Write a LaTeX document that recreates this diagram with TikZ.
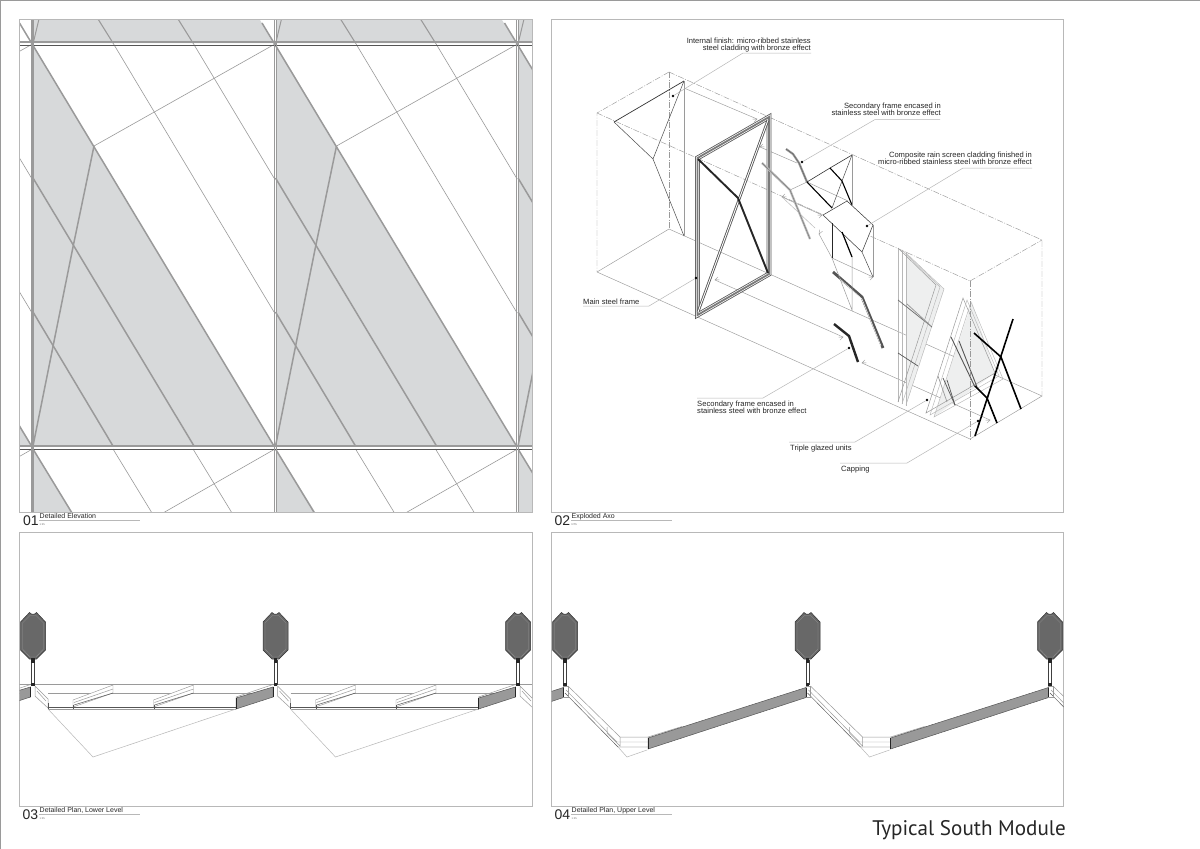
\documentclass[tikz,border=0pt]{standalone}
\usepackage{fontspec}
\setmainfont{Liberation Sans}
\newfontfamily\titlefont{PT Sans}
\definecolor{gfill}{HTML}{D7D9DA}
\definecolor{gline}{HTML}{9A9A9A}
\definecolor{lline}{HTML}{B8B8B8}
\definecolor{dline}{HTML}{555555}
\definecolor{colfill}{HTML}{686868}
\definecolor{panelfill}{HTML}{999999}
\definecolor{glassfill}{HTML}{EEEFEF}
\tikzset{
 frameline/.style={draw=lline,line width=0.9pt},
 thinl/.style={draw=gline,line width=0.6pt},
 thickl/.style={draw=gline,line width=1.5pt},
 axis/.style={draw=gline,line width=0.45pt},
 axisd/.style={draw=gline,line width=0.45pt,dash pattern=on 6pt off 1.5pt on 1pt off 1.5pt},
 leader/.style={draw=lline,line width=0.5pt},
 blkt/.style={draw=black,line width=1.6pt},
 gry/.style={draw=gline,line width=0.5pt},
 pale/.style={draw=lline,line width=0.45pt},
 note/.style={font=\fontsize{7.6}{7.2}\selectfont,text=black!85,inner sep=0pt,align=left,anchor=north west},
 noter/.style={font=\fontsize{7.6}{7.2}\selectfont,text=black!85,inner sep=0pt,align=right,anchor=north east},
 caption/.style={font=\fontsize{7}{7}\selectfont,text=black!85,inner sep=0pt,anchor=base west},
 scalet/.style={font=\fontsize{2.6}{3}\selectfont,text=black!60,inner sep=0pt,anchor=base west},
 numt/.style={font=\fontsize{14}{16}\selectfont,text=black!85,inner sep=0pt,anchor=base west},
 dotp/.style={circle,fill=black,inner sep=0pt,minimum size=2.6pt},
 ah/.style={draw=gline,line width=0.4pt},
}
\newcommand{\arrowmark}[2]{\draw[ah,shift={(#1)},rotate=#2] (-4,-1.6)--(0,0)--(-4,1.6);}
\newcommand{\plancol}[1]{%
 \begin{scope}[shift={(#1,0)}]
  \draw[fill=colfill,draw=black!80,line width=0.5pt] (-12.5,622)--(-3.5,612.5)--(-1.5,614)--(1.5,614)--(3.5,612.5)--(12.5,622)--(12.5,650)--(3.5,659)--(-3.5,659)--(-12.5,650)--cycle;
  \draw[draw=colfill!70!white,line width=0.3pt] (-10.5,623)--(-3,615.5)--(3,615.5)--(10.5,623)--(10.5,649)--(3,657)--(-3,657)--(-10.5,649)--cycle;
  \draw[fill=white,draw=black!75,line width=0.55pt] (-1.6,660)rectangle(1.6,684);
  \fill[black!85] (-1.8,657.5)rectangle(1.8,662.5);
  \fill[black!85] (-1.8,682.5)rectangle(1.8,686);
 \end{scope}}
\begin{document}
\begin{tikzpicture}[x=1pt,y=-1pt]
\useasboundingbox (0,0) rectangle (1200,849);
\fill[white] (0,0) rectangle (1200,849);
\draw[draw=gline,line width=1.1pt] (1200,0.5)--(0.8,0.5)--(0.8,849);
%%%%%%% PANEL 01
\begin{scope}
\clip (19.5,19.5) rectangle (532,512);
\fill[gfill] (33,20)--(260,20)--(274,43)--(33,43)--cycle;
\fill[gfill] (276,20)--(502,20)--(516,43)--(276,43)--cycle;
\fill[gfill] (518,20) rectangle (532,43);
\fill[gfill] (33,45)--(274,446)--(33,446)--cycle;
\fill[gfill] (276,45)--(516,446)--(276,446)--cycle;
\fill[gfill] (518,45)--(532,68)--(532,446)--(518,446)--cycle;
\fill[gfill] (19,424)--(32,446)--(19,446)--cycle;
\fill[gfill] (33,449)--(72,512)--(33,512)--cycle;
\fill[gfill] (276,449)--(315,512)--(276,512)--cycle;
\fill[gfill] (518,449)--(532,472)--(532,512)--(518,512)--cycle;
\foreach \m in {-242.5,0,242.5,485}{
 \begin{scope}[shift={(\m,0)}]
  \draw[thinl] (113,43)--(274,312);
  \draw[thinl] (193,43)--(274,178);
  \draw[thinl] (94,146)--(275,44);
  \draw[thinl] (113,449)--(152,513);
  \draw[thinl] (193,449)--(232,513);
  \draw[thinl] (275,449)--(163,513);
  \draw[thickl] (19.5,23)--(274,446);
  \draw[thickl] (33,178)--(194,446);
  \draw[thickl] (33,312)--(113,446);
  \draw[thickl] (94,146)--(73,247)--(33,446);
  \draw[thickl] (33,449)--(72,513);
  \draw[draw=gline,line width=1pt] (33,44)--(39,19);
  \draw[draw=gline,line width=1.1pt] (98,19)--(113,43);
  \draw[draw=gline,line width=1.1pt] (178,19)--(193,43);
 \end{scope}}
\draw[draw=gline,line width=1.5pt] (19,42.2)--(532,42.2);
\draw[draw=dline,line width=0.7pt] (19,45)--(532,45);
\draw[draw=gline,line width=1.5pt] (19,446)--(532,446);
\draw[draw=dline,line width=0.7pt] (19,449.3)--(532,449.3);
\draw[draw=gline,line width=2.6pt] (32.5,19)--(32.5,513);
\draw[draw=gline,line width=0.8pt] (274,19)--(274,513);
\draw[draw=gline,line width=0.8pt] (276.8,19)--(276.8,513);
\draw[draw=gline,line width=0.8pt] (516,19)--(516,513);
\draw[draw=gline,line width=1.4pt] (518.5,19)--(518.5,513);
\end{scope}
%%%%%%% PANEL FRAMES
\draw[frameline] (19.5,19.5) rectangle (532,512);
\draw[frameline] (551.5,19.5) rectangle (1063.5,512);
\draw[frameline] (19.5,532.5) rectangle (532,806);
\draw[frameline] (551.5,532.5) rectangle (1063.5,806);
%%%%%%% PANEL 02 : exploded axo
\draw[axisd] (669,72)--(597,113)--(597,272);
\draw[axisd] (669,72)--(669,229);
\draw[axis] (669,229)--(597,272);
\draw[axisd] (669,72)--(1042,240)--(1042,396);
\draw[axisd] (597,113)--(970,281);
\draw[axisd] (970,281)--(1042,240);
\draw[axis] (597,272)--(970,439)--(1042,396)--(669,229);
% internal finish panel
\draw[draw=black!80,line width=0.7pt] (614,122)--(684,81);
\draw[draw=black!70,line width=0.5pt] (684,81)--(653,159)--(614,122);
\draw[draw=black!70,line width=0.5pt] (653,159)--(684,236);
\draw[gry] (684,81)--(684,236);
% projection lines with arrows
\draw[axis] (684,88)--(757,119); \arrowmark{757,119}{24}
\draw[axis] (760,147)--(797,163); \arrowmark{760,147}{204}
\draw[axis] (782,197)--(822,215); \arrowmark{782,197}{204}\arrowmark{822,215}{24}
\draw[axis] (715,280)--(843,337); \arrowmark{715,280}{204}\arrowmark{843,337}{24}
\draw[axis] (862,363)--(990,420); \arrowmark{862,363}{204}\arrowmark{990,420}{24}
\draw[axis] (832,258)--(873,277); \arrowmark{873,277}{24}
\draw[axis] (807,182)--(848,201);
\draw[axis] (790,190)--(807,182);
\draw[axis] (819,234)--(832,258); \arrowmark{819,234}{240}
\draw[pale] (782,197)--(815,228);
% main steel frame
\draw[draw=dline,line width=4.8pt,line join=miter] (697.5,158)--(769,117)--(769,274)--(697.5,315)--cycle;
\draw[draw=white,line width=3.2pt,line join=miter] (697.5,158)--(769,117)--(769,274)--(697.5,315)--cycle;
\draw[draw=gline!80!black,line width=1.8pt,line join=miter] (697.5,158)--(769,117)--(769,274)--(697.5,315)--cycle;
\draw[draw=dline,line width=2.6pt] (768,120)--(698,312);
\draw[draw=white,line width=0.9pt] (768,120)--(698,312);
\draw[draw=black!85,line width=1.9pt] (698,159)--(738,198)--(768,273);
% secondary frames
\draw[draw=gline,line width=2.2pt] (786,149)--(793,154)--(799,163)--(807,182);
\draw[draw=dline,line width=0.4pt] (786,149)--(793,154)--(799,163)--(807,182);
\draw[draw=gline!70,line width=2.2pt] (762,163)--(790,190)--(810,239);
\draw[draw=gline!70!black,line width=0.35pt] (762,163)--(790,190)--(810,239);
\draw[draw=dline,line width=2.8pt,line join=round] (833,272)--(862,297)--(883,348);
\draw[draw=white,line width=0.5pt] (840,279)--(862,299)--(881,346);
\draw[draw=black!85,line width=2.4pt,line join=round] (834,324)--(849,336)--(858,362);
% upper cladding
\draw[draw=black!80,line width=0.6pt] (807,182)--(830,168)--(852,155);
\draw[draw=black,line width=1.1pt] (807,182)--(832,208);
\draw[draw=black,line width=1.1pt] (830,168)--(842,181)--(852,205);
\draw[draw=black!70,line width=0.5pt] (852,155)--(842,181)--(832,208);
\draw[gry] (852,155)--(852,205);
% rain screen cladding
\draw[fill=white,draw=black!75,line width=0.55pt] (823,215)--(847,201)--(873,225)--(862,252)--cycle;
\draw[gry] (873,225)--(873,277);
\draw[draw=black!70,line width=0.5pt] (862,252)--(873,277);
\draw[draw=black!85,line width=0.7pt] (832,223)--(832,258);
\draw[draw=black,line width=1.2pt] (842,232)--(852,257);
\draw[gry] (832,258)--(852,310)--(852,257);
% glazing 1
\fill[glassfill] (906,253)--(944,289)--(906,405)--cycle;
\foreach \dx/\dy in {0/0,4/2,8/3.5}{
 \draw[pale] (898+\dx,248+\dy)--(898+\dx,402+\dy);
}
\draw[gry] (898,248)--(936,285)--(898,402);
\draw[pale] (902,250)--(940,287)--(902,404);
\draw[pale] (906,253)--(944,289)--(906,405);
\draw[draw=gline!70!black,line width=0.7pt] (898,300)--(932,327);
\draw[draw=gline,line width=0.8pt] (907,304)--(931,326);
\draw[draw=dline,line width=0.7pt] (898,353)--(918,366);
% glazing 2
\fill[glassfill] (972,302)--(995,373)--(934,417)--cycle;
\draw[gry] (963,298)--(926,413)--(995,373)--cycle;
\draw[pale] (967,300)--(930,415)--(999,376)--cycle;
\draw[pale] (971,302)--(934,417)--(1003,379)--cycle;
\draw[draw=dline,line width=0.9pt] (951,337)--(975,387);
\draw[draw=dline,line width=0.9pt] (959,341)--(977,387);
\draw[draw=gline,line width=0.7pt] (938,376)--(947,402);
\draw[draw=dline,line width=0.7pt] (943,378)--(955,405);
\draw[draw=dline,line width=0.7pt] (947,380)--(955,405);
% capping
\draw[blkt] (974,333)--(1001,357)--(1021,409);
\draw[blkt] (1013,319)--(975,436);
\draw[blkt] (975,386)--(987,398)--(997,423);
\draw[axisd] (970,281)--(970,439);
% leaders and notes
\node[noter] (n1) at (811,38) {Internal finish: micro-ribbed stainless\\steel cladding with bronze effect};
\coordinate (n1a) at (811,53); \coordinate (n1b) at (743,53);
\node[dotp] (d1) at (673,96) {};
\draw[leader] (n1a)--(n1b)--(d1);
\node[noter] (n2) at (941,103) {Secondary frame encased in\\stainless steel with bronze effect};
\coordinate (n2a) at (940,119.5); \coordinate (n2b) at (875,119.5);
\node[dotp] (d2) at (802,162) {};
\draw[leader] (n2a)--(n2b)--(d2);
\node[noter] (n3) at (1032,152) {Composite rain screen cladding finished in\\micro-ribbed stainless steel with bronze effect};
\coordinate (n3a) at (1032,168); \coordinate (n3b) at (963,168);
\node[dotp] (d3) at (867,226) {};
\draw[leader] (n3a)--(n3b)--(d3);
\node[note] (n4) at (583,298.5) {Main steel frame};
\coordinate (n4a) at (583,306); \coordinate (n4b) at (649,306);
\node[dotp] (d4) at (696,278) {};
\draw[leader] (n4a)--(n4b)--(d4);
\node[note] (n5) at (697,401) {Secondary frame encased in\\stainless steel with bronze effect};
\coordinate (n5a) at (697,398); \coordinate (n5b) at (763,398);
\node[dotp] (d5) at (849,348) {};
\draw[leader] (n5a)--(n5b)--(d5);
\node[note] (n6) at (790,444.5) {Triple glazed units};
\coordinate (n6a) at (789,442); \coordinate (n6b) at (855,442);
\node[dotp] (d6) at (927,400) {};
\draw[leader] (n6a)--(n6b)--(d6);
\node[note] (n7) at (841,465.5) {Capping};
\coordinate (n7a) at (840,463); \coordinate (n7b) at (907,463);
\node[dotp] (d7) at (978,421) {};
\draw[leader] (n7a)--(n7b)--(d7);
%%%%%%% PANEL 03
\begin{scope}
\clip (19.5,532.5) rectangle (532,806);
\draw[gry] (19,684.5)--(532,684.5);
\foreach \m in {-242.5,0,242.5,485}{
 \begin{scope}[shift={(\m,0)}]
  \draw[gry] (48,693.5)--(273,693.5);
  \draw[draw=dline,line width=0.45pt] (48,707.5)--(236,707.5);
  \draw[draw=gline,line width=0.45pt] (48,709.2)--(236,709.2);
  \draw[leader] (48,709)--(93,757)--(236,709);
  \draw[fill=white,draw=gline,line width=0.5pt] (35,686)--(48,699)--(48,708)--(35,696)--cycle;
  \draw[gry] (37,691)--(46,701);
  \draw[draw=dline,line width=0.6pt] (48,703)--(48,709);
  \foreach \s in {0,80.5}{
   \draw[fill=white,draw=gline,line width=0.45pt] (73+\s,700)--(113+\s,685)--(113+\s,693)--(73+\s,707)--cycle;
   \draw[draw=dline,line width=0.5pt] (74+\s,705)--(113+\s,693);
   \draw[gry] (74+\s,702.5)--(113+\s,689);
   \draw[draw=dline,line width=0.5pt] (73.5+\s,705)--(73.5+\s,709);
  }
  \draw[fill=panelfill,draw=dline,line width=0.5pt] (236,698)--(273,687)--(273,697)--(236,709)--cycle;
  \draw[draw=black!85,line width=0.9pt] (236,698)--(236,709);
  \draw[draw=black!85,line width=0.9pt] (273,687)--(273,697);
  \draw[gry] (236,697)--(273,684.5);
 \end{scope}}
\plancol{33}\plancol{275.5}\plancol{518}
\end{scope}
%%%%%%% PANEL 04
\begin{scope}
\clip (551.5,532.5) rectangle (1063.5,806);
\foreach \m in {-242.5,0,242.5,485}{
 \begin{scope}[shift={(\m,0)}]
  \draw[gry] (568,686)--(620,737)--(648,737);
  \draw[draw=gline,line width=0.45pt] (566,690)--(617,742)--(648,742);
  \draw[draw=dline,line width=0.45pt] (565,693)--(618,747)--(648,747);
  \draw[gry] (563,686)--(568,686)--(568,697)--(563,697);
  \draw[gry] (607,727)--(607,733)--(620,746)--(620,737);
  \draw[leader] (618,747)--(627,757)--(647,750);
  \draw[gry] (648,737)--(682,726.5);
  \draw[fill=panelfill,draw=dline,line width=0.5pt] (648,738)--(806,687.5)--(806,697.5)--(648,749)--cycle;
  \draw[draw=black!85,line width=0.9pt] (648,738)--(648,749);
  \draw[draw=black!85,line width=0.9pt] (806,687.5)--(806,697.5);
 \end{scope}}
\plancol{565}\plancol{807.5}\plancol{1050}
\end{scope}
%%%%%%% CAPTIONS
\node[numt] (c1) at (23,525) {01};
\node[caption] (t1) at (39.5,518.8) {Detailed Elevation};
\node[scalet] (s1) at (39.5,525.5) {1:25};
\coordinate (u1a) at (39,520.5); \coordinate (u1b) at (140,520.5);
\draw[leader] (u1a)--(u1b);
\node[numt] (c2) at (554.5,525) {02};
\node[caption] (t2) at (571.5,518.8) {Exploded Axo};
\node[scalet] (s2) at (571.5,525.5) {NTS};
\coordinate (u2a) at (571,520.5); \coordinate (u2b) at (672,520.5);
\draw[leader] (u2a)--(u2b);
\node[numt] (c3) at (22.5,819) {03};
\node[caption] (t3) at (39.5,812.8) {Detailed Plan, Lower Level};
\node[scalet] (s3) at (39.5,819.5) {1:25};
\coordinate (u3a) at (39,814.5); \coordinate (u3b) at (140,814.5);
\draw[leader] (u3a)--(u3b);
\node[numt] (c4) at (554.5,819) {04};
\node[caption] (t4) at (571.5,812.8) {Detailed Plan, Upper Level};
\node[scalet] (s4) at (571.5,819.5) {1:25};
\coordinate (u4a) at (571,814.5); \coordinate (u4b) at (672,814.5);
\draw[leader] (u4a)--(u4b);
\node[font=\titlefont\fontsize{21.1}{22}\selectfont,text=black!85,inner sep=0pt,anchor=base east] (title) at (1066,835) {Typical South Module};
\end{tikzpicture}
\end{document}
